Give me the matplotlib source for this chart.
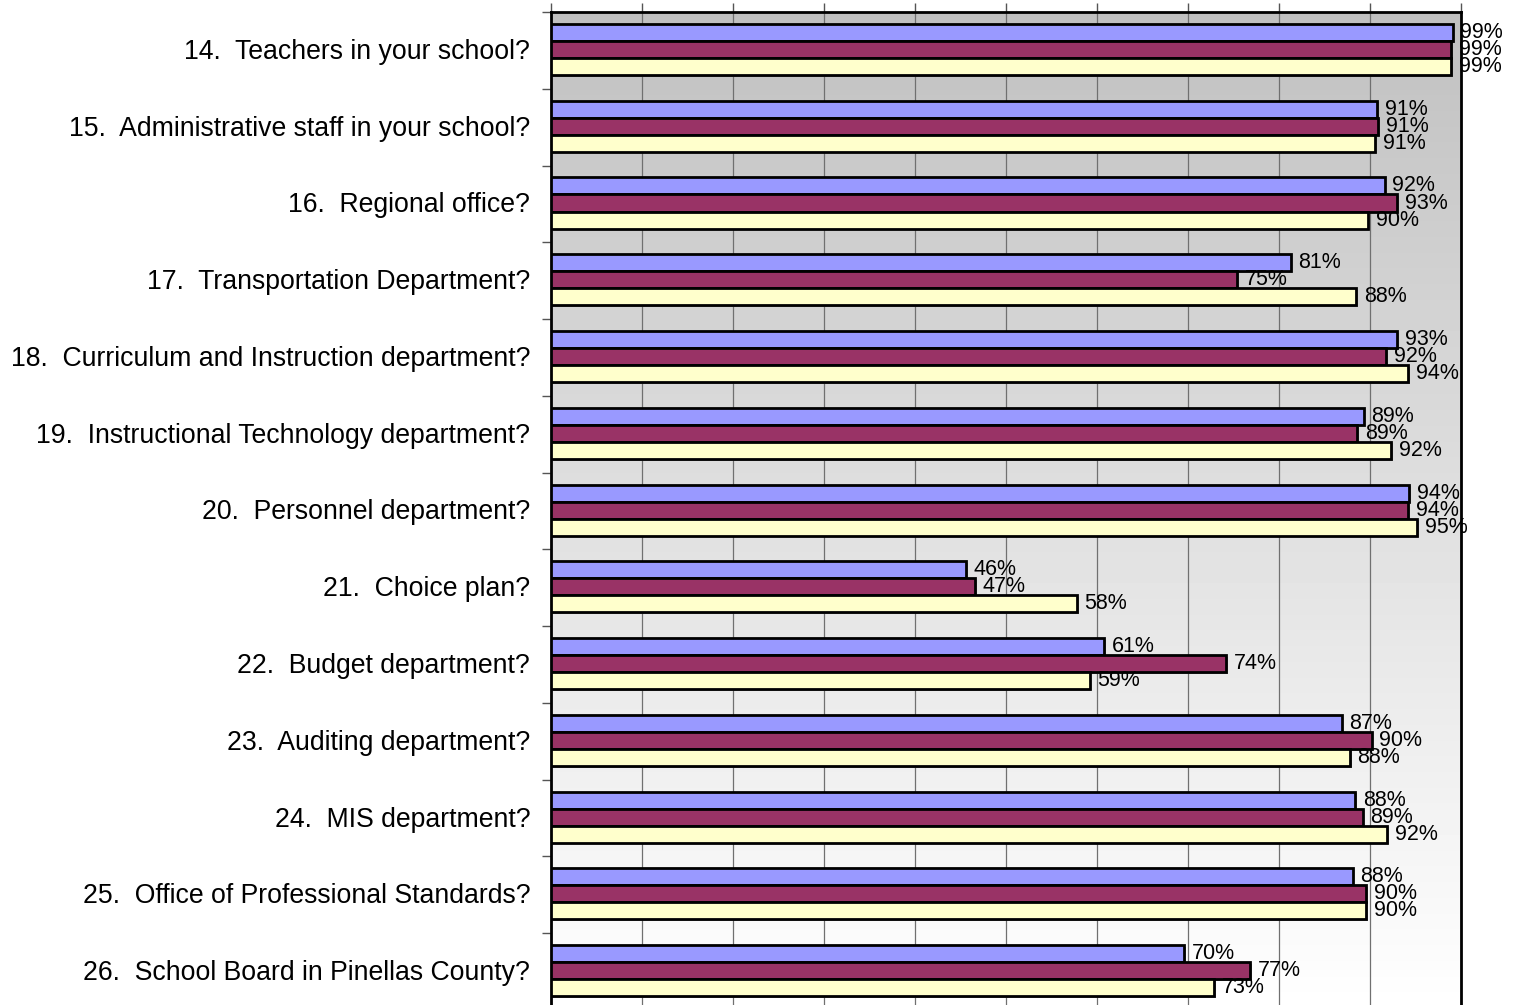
import matplotlib
matplotlib.use("Agg")
import matplotlib.pyplot as plt
import matplotlib.patheffects as pe
import numpy as np

plt.rcParams['font.family'] = ['Liberation Sans', 'DejaVu Sans']

questions = [
    "14.  Teachers in your school?",
    "15.  Administrative staff in your school?",
    "16.  Regional office?",
    "17.  Transportation Department?",
    "18.  Curriculum and Instruction department?",
    "19.  Instructional Technology department?",
    "20.  Personnel department?",
    "21.  Choice plan?",
    "22.  Budget department?",
    "23.  Auditing department?",
    "24.  MIS department?",
    "25.  Office of Professional Standards?",
    "26.  School Board in Pinellas County?",
]

# percent values (labels are rounded)
series_a = [99.1, 90.8, 91.6, 81.3, 93.0, 89.3, 94.3, 45.6, 60.8, 86.9, 88.4, 88.1, 69.6]
series_b = [98.9, 90.9, 93.0, 75.4, 91.8, 88.6, 94.2, 46.6, 74.2, 90.2, 89.2, 89.6, 76.8]
series_c = [98.9, 90.6, 89.8, 88.5, 94.2, 92.3, 95.2, 57.8, 59.2, 87.8, 91.9, 89.6, 72.9]

colors = ["#9999FF", "#993366", "#FFFFCC"]

fig = plt.figure(figsize=(15.19, 10.05), dpi=100)
ax = fig.add_axes([551 / 1519, 1 - 1010 / 1005, 910 / 1519, 998 / 1005])

# gray-to-white background
grad = np.linspace(0.753, 1.0, 256).reshape(-1, 1)
ax.imshow(grad, cmap="gray", vmin=0, vmax=1, aspect="auto",
          extent=[0, 100, 12.5, -0.5], zorder=0, interpolation="bicubic")

y = np.arange(len(questions)) - 0.012
h = 0.222
shadow = [pe.SimplePatchShadow(offset=(1.2, -1.2), shadow_rgbFace="#606060", alpha=0.6), pe.Normal()]
for i, (vals, c) in enumerate(zip([series_a, series_b, series_c], colors)):
    pos = y + (i - 1) * h
    bars = ax.barh(pos, vals, height=h, color=c, edgecolor="black", linewidth=2.0, zorder=3)
    for b in bars:
        b.set_path_effects(shadow)
    for p, v in zip(pos, vals):
        ax.annotate("%.0f%%" % v, (v, p), xytext=(5.5, 0), textcoords="offset points",
                    ha="left", va="center", fontsize=15.5, zorder=5, annotation_clip=False)

ax.set_xlim(0, 100)
ax.set_ylim(12.5, -0.5)

ax.set_xticks(np.arange(0, 101, 10))
ax.xaxis.tick_top()
ax.tick_params(axis="x", which="major", direction="out", length=6.5, width=1,
               color="#555555", labeltop=False, labelbottom=False)
ax.grid(axis="x", color="#707070", linewidth=0.9, zorder=1)

ax.set_yticks(np.arange(len(questions)) - 0.02)
ax.set_yticklabels(questions, fontsize=19.2)
ax.set_yticks(np.arange(-0.5, 12.6, 1), minor=True)
ax.tick_params(axis="y", which="major", length=0, pad=15)
ax.tick_params(axis="y", which="minor", direction="out", length=6.5, width=1, color="#555555")

for s in ["left", "top", "right"]:
    ax.spines[s].set_linewidth(2)
    ax.spines[s].set_color("black")
ax.spines["bottom"].set_visible(False)
ax.set_axisbelow(True)

fig.savefig("out.png", dpi=100)
